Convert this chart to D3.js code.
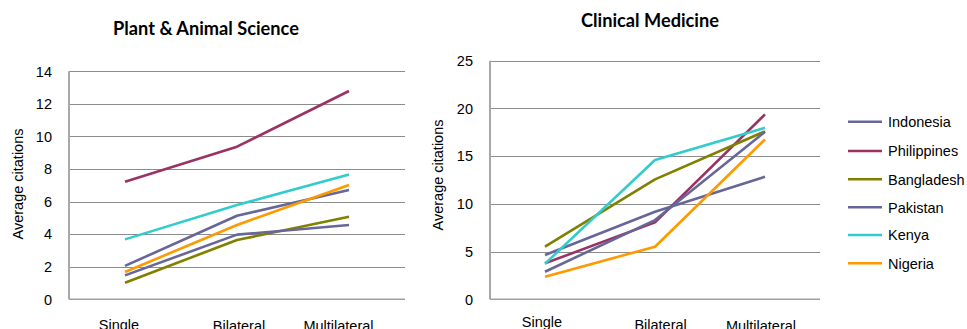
<!DOCTYPE html>
<html><head><meta charset="utf-8">
<script src="https://cdn.jsdelivr.net/npm/d3@7/dist/d3.min.js"></script>
<style>
html,body{margin:0;padding:0;background:#fff;}
svg{display:block;}
text{font-family:"Liberation Sans",Arial,sans-serif;fill:#000;}
</style></head>
<body>
<svg id="c" width="967" height="329"></svg>
<script>
const categories = ["Single", "Bilateral", "Multilateral"];
const countries = ["Indonesia", "Philippines", "Bangladesh", "Pakistan", "Kenya", "Nigeria"];
const colors = ["#666699", "#993366", "#808000", "#666699", "#33CCCC", "#FF9900"];

// Plant & Animal Science
const plantIndonesia   = [2.05, 5.13, 6.71];
const plantPhilippines = [7.22, 9.37, 12.79];
const plantBangladesh  = [1.02, 3.64, 5.07];
const plantPakistan    = [1.47, 3.97, 4.56];
const plantKenya       = [3.68, 5.79, 7.67];
const plantNigeria     = [1.68, 4.56, 7.02];
const plantTicks = [0, 2, 4, 6, 8, 10, 12, 14];

// Clinical Medicine
const clinIndonesia   = [4.64, 9.17, 12.84];
const clinPhilippines = [3.77, 8.06, 19.37];
const clinBangladesh  = [5.51, 12.57, 17.60];
const clinPakistan    = [2.89, 8.30, 17.55];
const clinKenya       = [3.73, 14.59, 17.97];
const clinNigeria     = [2.37, 5.51, 16.75];
const clinTicks = [0, 5, 10, 15, 20, 25];

const svg = d3.select("#c");

function drawChart(cfg) {
  const g = svg.append("g");
  const x = d3.scaleBand().domain(categories).range([cfg.left, cfg.right]);
  const y = d3.scaleLinear().domain([0, cfg.max]).range([cfg.bottom, cfg.top]);

  // gridlines
  g.selectAll("line.grid").data(cfg.ticks.filter(t => t > 0)).join("line")
    .attr("x1", cfg.left).attr("x2", cfg.right)
    .attr("y1", d => Math.round(y(d)) + 0.5).attr("y2", d => Math.round(y(d)) + 0.5)
    .attr("stroke", "#8c8c8c").attr("stroke-width", 1);

  // axes lines
  g.append("line").attr("x1", cfg.left).attr("x2", cfg.left)
    .attr("y1", cfg.top).attr("y2", cfg.bottom)
    .attr("stroke", "#a8a8a8").attr("stroke-width", 2);
  g.append("line").attr("x1", cfg.left).attr("x2", cfg.right)
    .attr("y1", cfg.bottom).attr("y2", cfg.bottom)
    .attr("stroke", "#a0a0a0").attr("stroke-width", 1.5);

  // y tick labels
  g.selectAll("text.yt").data(cfg.ticks).join("text")
    .attr("x", cfg.left - 17).attr("y", d => y(d)).attr("dy", "0.36em")
    .attr("text-anchor", "end").style("font-size", "14.5px").text(d => d);

  // x labels
  g.selectAll("text.xt").data(categories).join("text")
    .attr("x", (d, i) => x(d) + x.bandwidth() / 2 + cfg.xlabDx[i])
    .attr("y", (d, i) => cfg.xlabY[i])
    .attr("text-anchor", "middle").style("font-size", "14.5px").text(d => d);

  // y title
  g.append("text").attr("transform", `translate(${cfg.ytX},${cfg.ytY}) rotate(-90)`)
    .attr("text-anchor", "middle").attr("dy", "0.36em").style("font-size", "14.5px")
    .text("Average citations");

  // title
  g.append("text").attr("x", cfg.titleX).attr("y", cfg.titleY)
    .attr("text-anchor", "middle")
    .style("font-family", "Lato, 'Open Sans', sans-serif").style("font-weight", "bold")
    .style("font-size", cfg.titleSize + "px").text(cfg.title);

  const line = d3.line().x((d, i) => x(categories[i]) + x.bandwidth() / 2).y(d => y(d));
  g.selectAll("path.s").data(cfg.series).join("path")
    .attr("d", d => line(d)).attr("fill", "none")
    .attr("stroke", (d, i) => colors[i]).attr("stroke-width", 2.6)
    .attr("stroke-linejoin", "round");
}

drawChart({
  left: 69, right: 405, top: 71.3, bottom: 299.3, max: 14, ticks: plantTicks,
  series: [plantIndonesia, plantPhilippines, plantBangladesh, plantPakistan, plantKenya, plantNigeria],
  xlabDx: [-6, 2, -10.5], xlabY: [329.5, 330.5, 330.5],
  ytX: 18, ytY: 184, title: "Plant & Animal Science", titleX: 206, titleY: 35, titleSize: 18.2
});

drawChart({
  left: 490, right: 820, top: 60.7, bottom: 299.3, max: 25, ticks: clinTicks,
  series: [clinIndonesia, clinPhilippines, clinBangladesh, clinPakistan, clinKenya, clinNigeria],
  xlabDx: [-3, 5.6, -4], xlabY: [327, 329.5, 330.5],
  ytX: 438, ytY: 175, title: "Clinical Medicine", titleX: 650, titleY: 26.7, titleSize: 18.2
});

// legend
const legY = [121.7, 151, 179.3, 207.3, 235, 263.3];
const leg = svg.append("g");
leg.selectAll("line").data(countries).join("line")
  .attr("x1", 848).attr("x2", 882)
  .attr("y1", (d, i) => legY[i]).attr("y2", (d, i) => legY[i])
  .attr("stroke", (d, i) => colors[i]).attr("stroke-width", 2.6);
leg.selectAll("text").data(countries).join("text")
  .attr("x", 888).attr("y", (d, i) => legY[i]).attr("dy", "0.36em")
  .style("font-size", "14.5px").text(d => d);
</script>
</body></html>
